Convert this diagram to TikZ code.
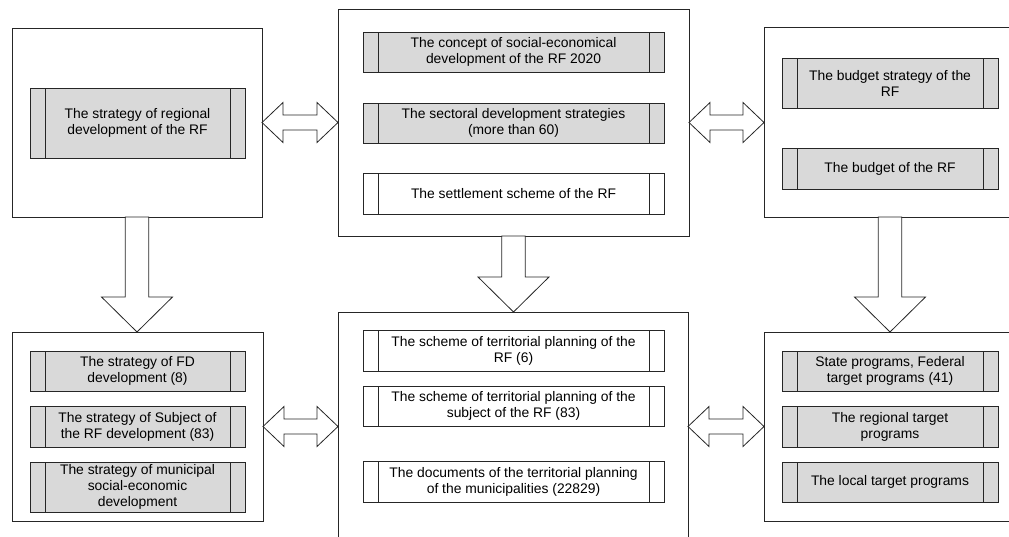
\documentclass[tikz,border=0pt]{standalone}
\usepackage{fontspec}
\setmainfont{Liberation Sans}
\usetikzlibrary{calc}
\definecolor{boxgray}{HTML}{D9D9D9}
\definecolor{linec}{HTML}{262626}
\tikzset{
  outerbox/.style={draw=linec, line width=0.6pt, fill=white, outer sep=0pt, inner sep=0pt},
  docbox/.style={draw=linec, line width=0.6pt, outer sep=0pt, inner sep=0pt, align=center,
    font=\fontsize{10.4}{12}\selectfont,
    path picture={
      \draw[linec, line width=0.6pt] ([xshift=11.25pt]path picture bounding box.north west) -- ([xshift=11.25pt]path picture bounding box.south west);
      \draw[linec, line width=0.6pt] ([xshift=-11.25pt]path picture bounding box.north east) -- ([xshift=-11.25pt]path picture bounding box.south east);
    }},
  graydoc/.style={docbox, fill=boxgray},
  whitedoc/.style={docbox, fill=white},
  colL/.style={minimum width=161.25pt},
  colM/.style={minimum width=225.75pt},
  colR/.style={minimum width=162pt},
  blockarrow/.style={draw=linec, line width=0.6pt, fill=white, line join=miter}
}
\begin{document}
\begin{tikzpicture}[x=0.75pt,y=-0.75pt]
\useasboundingbox (0,0) rectangle (1009,536);
\clip (0,0) rectangle (1009,536);
% outer boxes
\node[outerbox, minimum width=187.5pt, minimum height=141.75pt] (TL) at (137,122.5) {};
\node[outerbox, minimum width=263.25pt, minimum height=170.25pt] (TM) at (513.5,122.5) {};
\node[outerbox, minimum width=189pt, minimum height=142.5pt] (TR) at (890,122) {};
\node[outerbox, minimum width=188.25pt, minimum height=141.75pt] (BL) at (137.5,426.5) {};
\node[outerbox, minimum width=262.5pt, minimum height=178.5pt] (BM) at (513,431) {};
\node[outerbox, minimum width=189pt, minimum height=141.75pt] (BR) at (890,426.5) {};
% top-left
\node[graydoc, colL, minimum height=52.5pt] (TL1) at (137.5,123) {The strategy of regional\\development of the RF};
% top-middle
\node[graydoc, colM, minimum height=30pt] (TM1) at (513.5,52) {The concept of social-economical\\development of the RF 2020};
\node[graydoc, colM, minimum height=30pt] (TM2) at (513.5,123) {The sectoral development strategies\\(more than 60)};
\node[whitedoc, colM, minimum height=30.75pt] (TM3) at (513.5,193.5) {The settlement scheme of the RF};
% top-right
\node[graydoc, colR, minimum height=37.5pt] (TR1) at (890,83) {The budget strategy of the\\RF};
\node[graydoc, colR, minimum height=30.75pt] (TR2) at (890,168.5) {The budget of the RF};
% bottom-left
\node[graydoc, colL, minimum height=30pt] (BL1) at (137.5,371) {The strategy of FD\\development (8)};
\node[graydoc, colL, minimum height=30.75pt] (BL2) at (137.5,426.5) {The strategy of Subject of\\the RF development (83)};
\node[graydoc, colL, minimum height=37.5pt] (BL3) at (137.5,487) {The strategy of municipal\\social-economic\\development};
% bottom-middle
\node[whitedoc, colM, minimum height=30.75pt] (BM1) at (513.5,350.5) {The scheme of territorial planning of the\\RF (6)};
\node[whitedoc, colM, minimum height=30pt] (BM2) at (513.5,406) {The scheme of territorial planning of the\\subject of the RF (83)};
\node[whitedoc, colM, minimum height=30.75pt] (BM3) at (513.5,481.5) {The documents of the territorial planning\\of the municipalities (22829)};
% bottom-right
\node[graydoc, colR, minimum height=30pt] (BR1) at (890,371) {State programs, Federal\\target programs (41)};
\node[graydoc, colR, minimum height=30.75pt] (BR2) at (890,426.5) {The regional target\\programs};
\node[graydoc, colR, minimum height=30pt] (BR3) at (890,482) {The local target programs};
% down block arrows
\foreach \a/\b in {TL/BL, TM/BM, TR/BR}{
  \draw[blockarrow] let \p1=(\a.south), \p2=(\b.north) in
    (\x1-8.8pt,\y1) -- (\x1+8.8pt,\y1) -- (\x1+8.8pt,\y2+26.25pt) -- (\x1+26.6pt,\y2+26.25pt)
    -- (\x1,\y2) -- (\x1-26.6pt,\y2+26.25pt) -- (\x1-8.8pt,\y2+26.25pt) -- cycle;
}
% double horizontal block arrows
\coordinate (BMw) at (BM.west |- BL.east);
\coordinate (BMe) at (BM.east |- BR.west);
\foreach \a/\b in {TL.east/TM.west, TM.east/TR.west, BL.east/BMw, BMe/BR.west}{
  \draw[blockarrow] let \p1=(\a), \p2=(\b) in
    (\x1,\y1) -- (\x1+15.75pt,\y1+15pt) -- (\x1+15.75pt,\y1+5.6pt) -- (\x2-15.75pt,\y1+5.6pt)
    -- (\x2-15.75pt,\y1+15pt) -- (\x2,\y1) -- (\x2-15.75pt,\y1-15pt) -- (\x2-15.75pt,\y1-5.6pt)
    -- (\x1+15.75pt,\y1-5.6pt) -- (\x1+15.75pt,\y1-15pt) -- cycle;
}
\end{tikzpicture}
\end{document}
